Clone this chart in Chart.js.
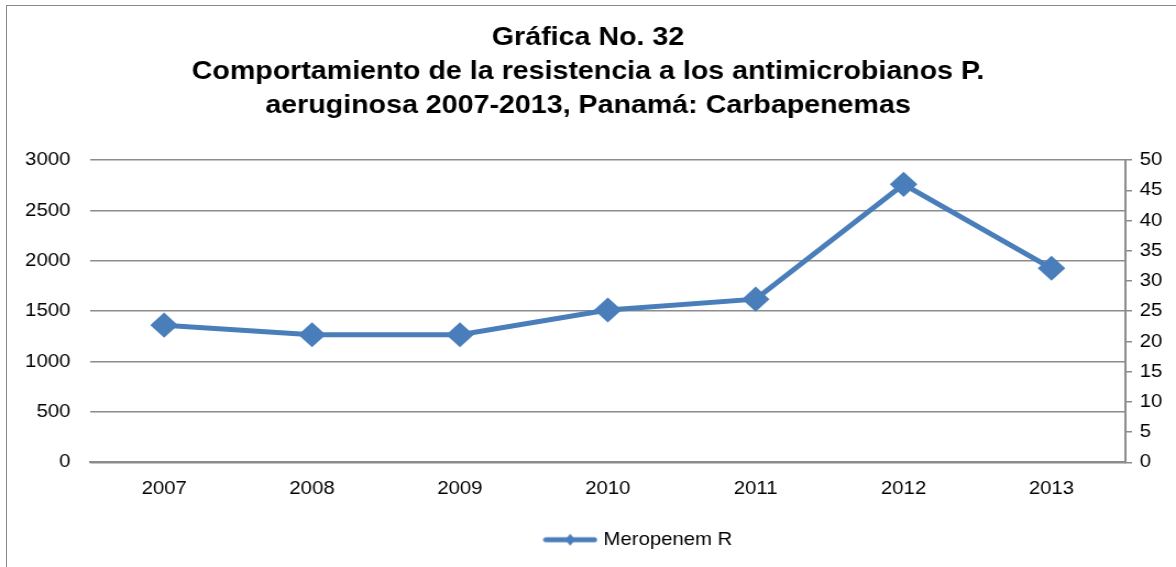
<!DOCTYPE html>
<html>
<head>
<meta charset="utf-8">
<script src="https://cdn.jsdelivr.net/npm/chart.js@4.4.1/dist/chart.umd.min.js"></script>
<style>
  body { margin: 0; background: #fff; overflow: hidden; }
  #wrap { position: relative; width: 1176px; height: 567px; overflow: hidden; }
  #frame { position: absolute; left: 6px; top: 5px; width: 1180px; height: 600px; border: 1px solid #8a8a8a; box-sizing: border-box; }
  /* the reference picture is a bit wider than tall, so the canvas is stretched sideways */
  #stretch { position: absolute; left: 0; top: 0; transform: scaleX(1.1001); transform-origin: 0 0; }
</style>
</head>
<body>
<div id="wrap">
  <div id="frame"></div>
  <div id="stretch">
    <canvas id="myChart" width="1069" height="567" style="width:1069px;height:567px"></canvas>
  </div>
</div>
<script>
// data
const years = ["2007", "2008", "2009", "2010", "2011", "2012", "2013"]
const meropenemR = [22.7, 21.1, 21.1, 25.2, 27.0, 46.0, 32.1]
const seriesName = "Meropenem R"
const titleLines = [
    "Gráfica No. 32",
    "Comportamiento de la resistencia a los antimicrobianos P.",
    "aeruginosa 2007-2013, Panamá: Carbapenemas"
]
const leftMax = 3000, leftStep = 500
const rightMax = 50, rightStep = 5

const blue = "#4a7ebb"
const gridGray = "#8c8c8c"
const font = "'Liberation Sans', Arial, sans-serif"
const tickSize = 18.5
const legendShift = 47   // legend sits a bit right of centre in the original

// little line + diamond picture for the legend entry
function legendGlyph(){
    let c = document.createElement("canvas")
    c.width = 50
    c.height = 20
    let g = c.getContext("2d")
    g.strokeStyle = blue
    g.lineWidth = 5
    g.lineCap = "round"
    g.beginPath()
    g.moveTo(3, 10)
    g.lineTo(47, 10)
    g.stroke()
    g.fillStyle = blue
    g.beginPath()
    g.moveTo(25, 4)
    g.lineTo(29.5, 10)
    g.lineTo(25, 16)
    g.lineTo(20.5, 10)
    g.closePath()
    g.fill()
    return c
}
const glyph = legendGlyph()

const nudgeLegend = {
    id: "nudgeLegend",
    afterLayout(chart){
        if (chart.legend){
            chart.legend.left += legendShift
            chart.legend.right += legendShift
        }
    }
}

new Chart("myChart", {
    type: "line",
    data: {
        labels: years,
        datasets: [{
            label: seriesName,
            data: meropenemR,
            yAxisID: "y1",
            borderColor: blue,
            backgroundColor: blue,
            borderWidth: 5,
            pointStyle: "rectRot",
            pointRadius: 9,
            pointHoverRadius: 9,
            tension: 0
        }]
    },
    plugins: [nudgeLegend],
    options: {
        responsive: false,
        animation: false,
        layout: { padding: { left: 0, right: 0, top: 0, bottom: 8 } },
        plugins: {
            tooltip: { enabled: false },
            title: {
                display: true,
                text: titleLines,
                color: "#000",
                font: { family: font, size: 26, weight: "bold", lineHeight: 1.31 },
                padding: { top: 21, bottom: 37 }
            },
            legend: {
                position: "bottom",
                labels: {
                    color: "#000",
                    font: { family: font, size: tickSize },
                    usePointStyle: true,
                    pointStyleWidth: 42,
                    padding: 14,
                    generateLabels: (chart) => [{
                        text: seriesName,
                        pointStyle: glyph,
                        fillStyle: blue,
                        strokeStyle: blue,
                        lineWidth: 0,
                        datasetIndex: 0
                    }]
                }
            }
        },
        scales: {
            x: {
                offset: true,
                grid: { display: false, drawTicks: false },
                border: { display: true, color: gridGray, width: 2 },
                ticks: { color: "#000", font: { family: font, size: tickSize }, padding: 16 }
            },
            y: {
                position: "left",
                min: 0,
                max: leftMax,
                afterFit: (s) => { s.width = 82 },
                ticks: {
                    stepSize: leftStep,
                    color: "#000",
                    font: { family: font, size: tickSize },
                    padding: 18,
                    callback: (v) => String(v)
                },
                grid: { color: gridGray, lineWidth: 1.5, drawTicks: false },
                border: { display: false }
            },
            y1: {
                position: "right",
                min: 0,
                max: rightMax,
                afterFit: (s) => { s.width = 46 },
                ticks: { stepSize: rightStep, color: "#000", font: { family: font, size: tickSize }, padding: 7 },
                grid: { drawOnChartArea: false, drawTicks: true, tickLength: 6, color: gridGray, lineWidth: 1.5 },
                border: { display: true, color: gridGray, width: 2 }
            }
        }
    }
})
</script>
</body>
</html>
